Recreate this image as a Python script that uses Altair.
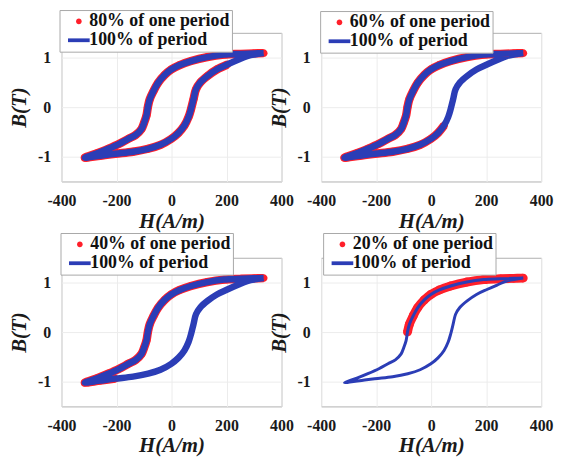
import altair as alt
import pandas as pd

# ---- data (closed B-H loop) ----
# upper (descending) branch, from positive tip to negative tip
H_UPPER = [335, 300, 250, 191, 130, 71, 30, -1, -25, -49, -65, -79, -86, -91,
           -100, -109, -130, -157, -190, -230, -270, -315]
B_UPPER = [1.09, 1.085, 1.075, 1.06, 1.01, 0.93, 0.85, 0.76, 0.65, 0.49, 0.33,
           0.16, 0.0, -0.17, -0.32, -0.44, -0.56, -0.64, -0.74, -0.84, -0.93, -1.02]
# lower (ascending) branch, from negative tip back to positive tip
H_LOWER = [-260, -205, -140, -85, -40, -1, 25, 47, 62, 71, 80, 89, 105, 131,
           165, 203, 240, 275, 335]
B_LOWER = [-0.98, -0.94, -0.9, -0.84, -0.76, -0.64, -0.52, -0.37, -0.2, -0.04,
           0.16, 0.36, 0.5, 0.63, 0.76, 0.86, 0.95, 1.03, 1.09]

RED_LABELS = ["80% of one period", "60% of one period",
              "40% of one period", "20% of one period"]
RED_COUNTS = [38, 30, 24, 13]          # loop points covered by the partial period
BLUE_LABEL = "100% of period"

X_TICKS = [-400, -200, 0, 200, 400]
Y_TICKS = [-1, 0, 1]

RED = "#ff1f2a"
BLUE = "#2b3db6"
FONT = "Times New Roman, Liberation Serif, serif"
CIRCLE_PATH = "M-0.3,0A0.3,0.3 0 1,0 0.3,0A0.3,0.3 0 1,0 -0.3,0Z"
BAR_PATH = "M-1.15,-0.2H1.15V0.2H-1.15Z"

LOOP_H = H_UPPER + H_LOWER
LOOP_B = B_UPPER + B_LOWER

LEGEND_POS = [(-2, -23), (-1, -22), (-1, -25), (2, -25)]
BLUE_WIDTH = [6.5, 6.5, 6.5, 3]
RED_WIDTH = [8.5, 8.5, 8.5, 9]
RED_SIZE = [700, 700, 700, 900]


def panel(i):
    n = len(LOOP_H)
    k = RED_COUNTS[i]
    loop_df = pd.DataFrame({"H": LOOP_H, "B": LOOP_B, "order": list(range(n)),
                            "series": [BLUE_LABEL] * n})
    red_df = pd.DataFrame({"H": LOOP_H[:k], "B": LOOP_B[:k], "order": list(range(k)),
                           "series": [RED_LABELS[i]] * k})
    domain = [RED_LABELS[i], BLUE_LABEL]
    lx, ly = LEGEND_POS[i]
    legend = alt.Legend(
        title=None, orient="none", legendX=lx, legendY=ly,
        fillColor="white", strokeColor="#a8a8a8", padding=2,
        labelFont=FONT, labelFontWeight="bold", labelFontSize=18,
        labelColor="#111", labelOffset=1, symbolOffset=8,
        symbolSize=361, symbolStrokeWidth=0, rowPadding=0,
    )
    x = alt.X("H:Q", scale=alt.Scale(domain=[-400, 400], nice=False, zero=False),
              axis=alt.Axis(values=X_TICKS, title="H(A/m)", labelExpr="datum.value + ''"))
    y = alt.Y("B:Q", scale=alt.Scale(domain=[-1.5, 1.5], nice=False, zero=False),
              axis=alt.Axis(values=Y_TICKS, title="B(T)", labelExpr="datum.value + ''"))
    red_line = alt.Chart(red_df).mark_line(
        color=RED, strokeWidth=RED_WIDTH[i], interpolate="catmull-rom"
    ).encode(x=x, y=y, order="order:Q")
    red_pts = alt.Chart(red_df).mark_point(filled=True, opacity=1, size=RED_SIZE[i]).encode(
        x=x, y=y,
        color=alt.Color("series:N", scale=alt.Scale(domain=domain, range=[RED, BLUE]), legend=legend),
        shape=alt.Shape("series:N", scale=alt.Scale(domain=domain, range=[CIRCLE_PATH, BAR_PATH]),
                        legend=legend),
    )
    blue_line = alt.Chart(loop_df).mark_line(
        color=BLUE, strokeWidth=BLUE_WIDTH[i], interpolate="catmull-rom"
    ).encode(x=x, y=y, order="order:Q")
    return alt.layer(red_line, red_pts, blue_line).properties(width=222, height=150)


chart = alt.concat(
    panel(0), panel(1), panel(2), panel(3),
    columns=2, spacing={"row": 77, "column": 40}, bounds="flush",
).resolve_scale(
    color="independent", shape="independent", x="independent", y="independent"
).resolve_legend(
    color="independent", shape="independent"
).properties(
    padding={"left": 0, "top": -1, "right": 0, "bottom": 0}
).configure_view(
    stroke="#b0b0b0", strokeWidth=1
).configure_axis(
    labelFont=FONT, labelFontWeight="bold", labelFontSize=16,
    labelColor="#1a1a1a", titleFont=FONT, titleFontWeight="bold",
    titleFontStyle="italic", titleFontSize=21, titleColor="#1a1a1a",
    ticks=False, domain=False, gridColor="#ececec", gridWidth=1,
    labelPadding=10, labelOverlap=False, labelFlush=False,
).configure_axisX(
    titlePadding=2, labelPadding=11
).configure_axisY(
    titlePadding=8, labelPadding=11
)

chart.save("out.html", embed_options={"renderer": "svg", "actions": False})
